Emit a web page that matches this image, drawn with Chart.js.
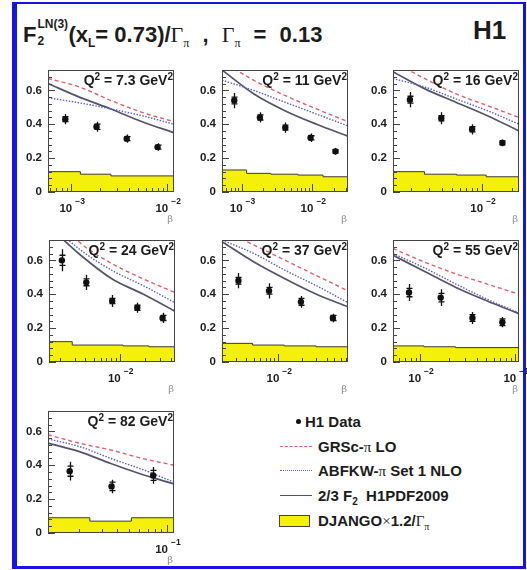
<!DOCTYPE html>
<html>
<head>
<meta charset="utf-8">
<style>
  html, body { margin: 0; padding: 0; background: #fff; }
  body { width: 527px; height: 570px; position: relative; overflow: hidden; font-family: "Liberation Sans", Arial, sans-serif; color: #1c1c1c; }
  #frame { position: absolute; left: 12px; top: 2px; width: 506px; height: 562px; border-style: solid; border-color: #1414e6; border-width: 2px 3px 3px 5px; }
  #title { position: absolute; left: 23px; top: 22px; font-weight: bold; font-size: 22px; line-height: 20px; white-space: pre; }
  #title .wide { word-spacing: 7px; }
  #title .stk { display: inline-block; position: relative; width: 32px; height: 20px; }
  #title .up { position: absolute; left: 1px; top: -4px; font-size: 12px; line-height: 12px; }
  #title .dn { position: absolute; left: 1px; top: 13px; font-size: 12px; line-height: 12px; }
  #title .sb { position: relative; top: 5px; font-size: 12px; }
  .gr { font-family: "Liberation Serif", serif; font-weight: normal; }
  .sbg { font-family: "Liberation Serif", serif; font-weight: normal; position: relative; top: 5px; font-size: 12px; }
  #h1 { position: absolute; left: 473px; top: 17px; font-weight: bold; font-size: 26px; line-height: 26px; }
  canvas.panel { position: absolute; }
  .leg { position: absolute; left: 318px; font-weight: bold; font-size: 15px; line-height: 16px; white-space: pre; }
  .leg .sbg { top: 4px; font-size: 10px; }
  .leg .sb { position: relative; top: 4px; font-size: 10px; }
  .sample { position: absolute; left: 280px; width: 32px; height: 0; }
</style>
</head>
<body>
<div id="frame"></div>
<div id="title">F<span class="stk"><span class="up">LN(3)</span><span class="dn">2</span></span>(x<span class="sb">L</span>= 0.73)<span class="wide">/<span class="gr">Γ</span><span class="sbg">π</span> , <span class="gr">Γ</span><span class="sbg">π</span> = 0.13</span></div>
<div id="h1">H1</div>

<div style="position:absolute;left:296px;top:419px;width:5px;height:5px;border-radius:50%;background:#111"></div>
<div class="leg" style="left:305px;top:414px">H1 Data</div>
<div class="sample" style="top:446px;border-top:1.5px dashed #e06070"></div>
<div class="leg" style="top:439px">GRSc-<span class="gr">π</span> LO</div>
<div class="sample" style="top:470px;border-top:1.5px dotted #6464cc"></div>
<div class="leg" style="top:463px">ABFKW-<span class="gr">π</span> Set 1 NLO</div>
<div class="sample" style="top:495px;border-top:1.5px solid #555566"></div>
<div class="leg" style="top:488px">2/3 F<span class="sb">2</span>  H1PDF2009</div>
<div style="position:absolute;left:279px;top:515px;width:29px;height:10px;background:#f5f00a;border:1px solid #444"></div>
<div class="leg" style="top:513px">DJANGO<span class="gr">×</span>1.2/<span class="gr">Γ</span><span class="sbg">π</span></div>

<script src="https://cdn.jsdelivr.net/npm/chart.js@4.4.0/dist/chart.umd.min.js"></script>
<script>
// ---- values, one entry per Q2 panel ----
const q2Labels = ['7.3', '11', '16', '24', '37', '55', '82'];
const betaMin = [5.75e-4, 5.3e-4, 1.32e-3, 1.5e-3, 2.0e-3, 5.2e-3, 1.12e-2];
const betaMax = [1.18e-2, 3.2e-2, 2.32e-2, 4.44e-2, 7.4e-2, 0.11, 0.114];
const decadeLabels = [[-3, -2], [-3, -2], [-2], [-2], [-2], [-2, -1], [-1]];
const yTicks = [0, 0.2, 0.4, 0.6];
const yTickLabels = ['0', '0.2', '0.4', '0.6'];
const yMax = 0.72;

// H1 data
const dataBeta = [
  [8.7e-4, 1.84e-3, 3.8e-3, 7.95e-3],
  [7.9e-4, 1.82e-3, 4.16e-3, 9.46e-3, 2.13e-2],
  [1.94e-3, 3.96e-3, 7.98e-3, 1.59e-2],
  [2.12e-3, 4.09e-3, 8.2e-3, 1.61e-2, 3.18e-2],
  [3.2e-3, 7.7e-3, 1.92e-2, 4.8e-2],
  [7.66e-3, 1.65e-2, 3.56e-2, 7.35e-2],
  [1.67e-2, 3.61e-2, 7.77e-2]
];
const dataF2 = [
  [0.43, 0.385, 0.315, 0.265],
  [0.54, 0.44, 0.38, 0.32, 0.24],
  [0.545, 0.435, 0.37, 0.29],
  [0.60, 0.47, 0.36, 0.32, 0.26],
  [0.48, 0.42, 0.355, 0.26],
  [0.41, 0.38, 0.26, 0.235],
  [0.365, 0.275, 0.34]
];
const statErr = [
  [0.015, 0.015, 0.012, 0.012],
  [0.02, 0.015, 0.015, 0.012, 0.01],
  [0.02, 0.015, 0.015, 0.012],
  [0.03, 0.02, 0.015, 0.015, 0.015],
  [0.02, 0.02, 0.02, 0.015],
  [0.025, 0.025, 0.02, 0.02],
  [0.03, 0.025, 0.03]
];
const totErr = [
  [0.03, 0.03, 0.025, 0.022],
  [0.045, 0.03, 0.03, 0.025, 0.02],
  [0.045, 0.035, 0.03, 0.02],
  [0.065, 0.045, 0.035, 0.03, 0.03],
  [0.045, 0.045, 0.035, 0.025],
  [0.05, 0.05, 0.035, 0.03],
  [0.055, 0.04, 0.05]
];

// model curves, sampled at the same beta values for all three
const curveBeta = [
  [5.75e-4, 1.22e-3, 2.6e-3, 5.5e-3, 1.18e-2],
  [5.3e-4, 1.48e-3, 4.1e-3, 1.15e-2, 3.2e-2],
  [1.32e-3, 2.7e-3, 5.5e-3, 1.13e-2, 2.32e-2],
  [1.5e-3, 3.52e-3, 8.2e-3, 1.9e-2, 4.44e-2],
  [2.0e-3, 5.0e-3, 1.23e-2, 3.0e-2, 7.4e-2],
  [5.2e-3, 1.11e-2, 2.39e-2, 5.1e-2, 0.11],
  [1.12e-2, 2.0e-2, 3.56e-2, 6.37e-2, 0.114]
];
const grscLO = [
  [0.67, 0.62, 0.54, 0.47, 0.415],
  [0.77, 0.66, 0.57, 0.49, 0.415],
  [0.77, 0.67, 0.58, 0.51, 0.44],
  [0.89, 0.70, 0.58, 0.49, 0.41],
  [0.78, 0.69, 0.60, 0.51, 0.42],
  [0.67, 0.59, 0.52, 0.46, 0.40],
  [0.58, 0.53, 0.49, 0.44, 0.40]
];
const abfkwNLO = [
  [0.556, 0.526, 0.49, 0.45, 0.40],
  [0.66, 0.60, 0.53, 0.46, 0.39],
  [0.67, 0.62, 0.55, 0.48, 0.40],
  [0.82, 0.66, 0.54, 0.45, 0.35],
  [0.72, 0.64, 0.54, 0.45, 0.35],
  [0.64, 0.556, 0.46, 0.37, 0.29],
  [0.555, 0.51, 0.44, 0.375, 0.30]
];
const h1pdf2009 = [
  [0.64, 0.56, 0.49, 0.415, 0.35],
  [0.72, 0.58, 0.48, 0.40, 0.33],
  [0.71, 0.61, 0.53, 0.45, 0.36],
  [0.80, 0.63, 0.49, 0.40, 0.30],
  [0.71, 0.59, 0.49, 0.40, 0.325],
  [0.63, 0.535, 0.44, 0.36, 0.285],
  [0.53, 0.48, 0.41, 0.345, 0.29]
];

// DJANGO band: bin edges and level per bin
const djangoEdges = [
  [5.75e-4, 1.25e-3, 2.6e-3, 1.18e-2],
  [5.3e-4, 1.18e-3, 2.6e-3, 6.25e-3, 1.42e-2, 3.2e-2],
  [1.32e-3, 2.7e-3, 5.6e-3, 1.1e-2, 2.32e-2],
  [1.5e-3, 2.8e-3, 1.1e-2, 2.2e-2, 4.44e-2],
  [2.0e-3, 4.8e-3, 1.19e-2, 2.96e-2, 7.4e-2],
  [5.2e-3, 1.1e-2, 2.37e-2, 0.11],
  [1.12e-2, 2.42e-2, 5.2e-2, 0.114]
];
const djangoLevel = [
  [0.12, 0.105, 0.095],
  [0.13, 0.11, 0.105, 0.10, 0.09],
  [0.12, 0.105, 0.10, 0.09],
  [0.12, 0.10, 0.095, 0.09],
  [0.11, 0.10, 0.095, 0.09],
  [0.095, 0.09, 0.085],
  [0.09, 0.07, 0.09]
];

// ---- layout ----
const panelPos = [[48, 70], [222, 70], [393, 70], [49, 240], [222, 240], [393, 240], [48, 411]];
const FRAME_W = 126, FRAME_H = 122;
const PAD = { left: 42, top: 4, right: 8, bottom: 34 };
const FONT = '"Liberation Sans", Arial, sans-serif';

function pts(xs, ys) {
  return xs.map((x, i) => ({ x: x, y: ys[i] }));
}

function drawQ2(ctx, xr, yb, q) {
  const big = 'bold 14px ' + FONT, sm = 'bold 10px ' + FONT;
  const parts = [['Q', big, 0], ['2', sm, -5], [' = ' + q + ' GeV', big, 0], ['2', sm, -5]];
  let w = 0;
  parts.forEach(p => { ctx.font = p[1]; p.w = ctx.measureText(p[0]).width; w += p.w; });
  let x0 = xr - w;
  parts.forEach(p => { ctx.font = p[1]; ctx.fillText(p[0], x0, yb + p[2]); x0 += p.w; });
}

// ROOT-like frame: inward ticks, bold labels, error bars
const rootAxes = {
  id: 'rootAxes',
  afterDatasetsDraw(chart, args, opts) {
    const { ctx, chartArea: a } = chart;
    const x = chart.scales.x, y = chart.scales.y;
    ctx.save();
    ctx.strokeStyle = '#111';
    ctx.fillStyle = '#111';
    ctx.lineWidth = 1.3;

    // error bars
    opts.beta.forEach((b, i) => {
      const px = Math.round(x.getPixelForValue(b)) + 0.5;
      const v = opts.f2[i];
      const t1 = y.getPixelForValue(v + opts.tot[i]), t2 = y.getPixelForValue(v - opts.tot[i]);
      const s1 = y.getPixelForValue(v + opts.stat[i]), s2 = y.getPixelForValue(v - opts.stat[i]);
      ctx.beginPath();
      ctx.moveTo(px, t1); ctx.lineTo(px, t2);
      ctx.moveTo(px - 3, s1); ctx.lineTo(px + 3, s1);
      ctx.moveTo(px - 3, s2); ctx.lineTo(px + 3, s2);
      ctx.stroke();
    });

    // frame
    ctx.strokeStyle = '#444';
    ctx.lineWidth = 1;
    ctx.strokeRect(a.left + 0.5, a.top + 0.5, a.right - a.left - 1, a.bottom - a.top - 1);

    // y ticks (minor every 0.04)
    ctx.beginPath();
    for (let i = 0; i * 0.04 <= y.max + 1e-9; i++) {
      const py = Math.round(y.getPixelForValue(i * 0.04)) + 0.5;
      const len = i % 5 === 0 ? 7 : 4;
      ctx.moveTo(a.left, py); ctx.lineTo(a.left + len, py);
    }
    // x ticks (log)
    const e0 = Math.floor(Math.log10(x.min)), e1 = Math.ceil(Math.log10(x.max));
    for (let e = e0; e <= e1; e++) {
      for (let m = 1; m <= 9; m++) {
        const v = m * Math.pow(10, e);
        if (v < x.min || v > x.max) continue;
        const px = Math.round(x.getPixelForValue(v)) + 0.5;
        const len = m === 1 ? 8 : 4;
        ctx.moveTo(px, a.bottom); ctx.lineTo(px, a.bottom - len);
      }
    }
    ctx.stroke();

    // y labels
    ctx.fillStyle = '#1c1c1c';
    ctx.font = 'bold 11.5px ' + FONT;
    ctx.textAlign = 'right';
    ctx.textBaseline = 'middle';
    yTicks.forEach((v, i) => ctx.fillText(yTickLabels[i], a.left - 6, y.getPixelForValue(v)));

    // x labels 10^n
    ctx.textAlign = 'left';
    ctx.textBaseline = 'alphabetic';
    opts.decades.forEach(e => {
      const px = x.getPixelForValue(Math.pow(10, e));
      ctx.font = 'bold 11.5px ' + FONT;
      const w1 = ctx.measureText('10').width;
      ctx.font = 'bold 8.5px ' + FONT;
      const w2 = ctx.measureText(String(e)).width;
      const x0 = px - (w1 + 3 + w2) / 2;
      ctx.font = 'bold 11.5px ' + FONT;
      ctx.fillText('10', x0, a.bottom + 20);
      ctx.font = 'bold 8.5px ' + FONT;
      ctx.fillText(String(e).replace('-', '\u2212'), x0 + w1 + 3, a.bottom + 12);
    });

    // beta axis title
    ctx.fillStyle = '#8c8c8c';
    ctx.font = '10px "DejaVu Serif", serif';
    ctx.textAlign = 'right';
    ctx.fillText('\u03b2', a.right - 1, a.bottom + 30);

    // Q2 label
    ctx.fillStyle = '#1c1c1c';
    ctx.textAlign = 'left';
    drawQ2(ctx, a.right - 1, a.top + 15, opts.q2);
    ctx.restore();
  }
};

q2Labels.forEach((q, k) => {
  const cv = document.createElement('canvas');
  cv.className = 'panel';
  cv.width = PAD.left + FRAME_W + PAD.right;
  cv.height = PAD.top + FRAME_H + PAD.bottom;
  cv.style.left = (panelPos[k][0] - PAD.left) + 'px';
  cv.style.top = (panelPos[k][1] - PAD.top) + 'px';
  document.body.appendChild(cv);

  const bandPts = pts(djangoEdges[k], djangoLevel[k].concat([djangoLevel[k][djangoLevel[k].length - 1]]));

  new Chart(cv, {
    type: 'scatter',
    data: {
      datasets: [
        { type: 'scatter', data: pts(dataBeta[k], dataF2[k]), backgroundColor: '#111', borderWidth: 0, pointRadius: 3.2 },
        { type: 'line', data: pts(curveBeta[k], grscLO[k]), borderColor: '#e2606e', borderWidth: 1.4, borderDash: [4, 3], pointRadius: 0, cubicInterpolationMode: 'monotone', fill: false },
        { type: 'line', data: pts(curveBeta[k], abfkwNLO[k]), borderColor: '#6060cc', borderWidth: 1.4, borderDash: [1.5, 1.5], pointRadius: 0, cubicInterpolationMode: 'monotone', fill: false },
        { type: 'line', data: pts(curveBeta[k], h1pdf2009[k]), borderColor: '#55556a', borderWidth: 1.7, pointRadius: 0, cubicInterpolationMode: 'monotone', fill: false },
        { type: 'line', data: bandPts, stepped: 'before', fill: 'origin', backgroundColor: '#f5f00a', borderColor: '#3a3a3a', borderWidth: 1, pointRadius: 0 }
      ]
    },
    options: {
      responsive: false,
      animation: false,
      devicePixelRatio: 1,
      layout: { padding: PAD },
      scales: {
        x: { type: 'logarithmic', min: betaMin[k], max: betaMax[k], bounds: 'data', display: false },
        y: { type: 'linear', min: 0, max: yMax, bounds: 'data', display: false }
      },
      plugins: {
        legend: { display: false },
        tooltip: { enabled: false },
        rootAxes: {
          q2: q, decades: decadeLabels[k],
          beta: dataBeta[k], f2: dataF2[k], stat: statErr[k], tot: totErr[k]
        }
      }
    },
    plugins: [rootAxes]
  });
});
</script>
</body>
</html>
